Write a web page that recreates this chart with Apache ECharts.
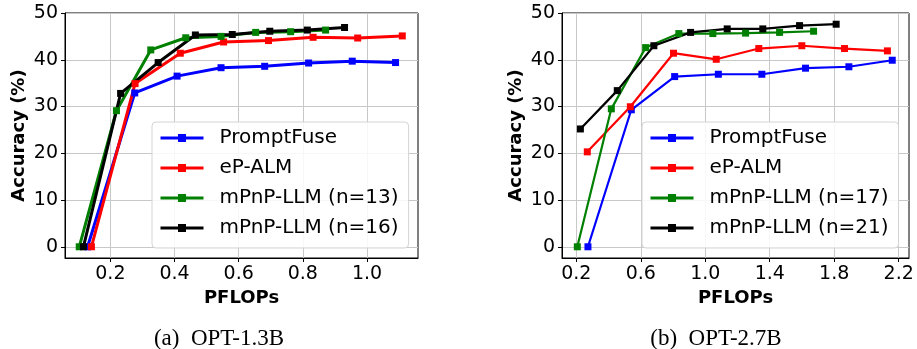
<!DOCTYPE html>
<html>
<head>
<meta charset="utf-8">
<script src="https://cdn.jsdelivr.net/npm/echarts@6/dist/echarts.min.js"></script>
<style>
  html, body { margin: 0; padding: 0; background: #fff; }
  #chart { width: 917px; height: 349px; }
</style>
</head>
<body>
<div id="chart"></div>
<script>
// ---- data (PFLOPs vs accuracy %) ----
// (a) OPT-1.3B
const leftPromptFuseX = [0.129, 0.276, 0.408, 0.545, 0.681, 0.818, 0.954, 1.089];
const leftPromptFuseY = [0, 32.9, 36.5, 38.3, 38.6, 39.3, 39.7, 39.4];
const leftEpAlmX = [0.141, 0.277, 0.418, 0.553, 0.693, 0.832, 0.971, 1.110];
const leftEpAlmY = [0, 34.9, 41.4, 43.8, 44.1, 44.8, 44.65, 45.1];
const leftN13X = [0.103, 0.219, 0.326, 0.435, 0.545, 0.653, 0.762, 0.871];
const leftN13Y = [0, 29.1, 42.1, 44.7, 45.0, 45.85, 46.0, 46.35];
const leftN16X = [0.116, 0.232, 0.349, 0.465, 0.580, 0.697, 0.814, 0.930];
const leftN16Y = [0, 32.8, 39.4, 45.3, 45.4, 46.1, 46.35, 46.9];

// (b) OPT-2.7B
const rightPromptFuseX = [0.272, 0.541, 0.810, 1.081, 1.351, 1.622, 1.891, 2.160];
const rightPromptFuseY = [0, 29.3, 36.4, 36.9, 36.9, 38.2, 38.5, 39.9];
const rightEpAlmX = [0.268, 0.535, 0.803, 1.068, 1.332, 1.599, 1.864, 2.130];
const rightEpAlmY = [20.3, 29.95, 41.4, 40.1, 42.4, 43.0, 42.4, 41.9];
const rightN17X = [0.206, 0.417, 0.630, 0.836, 1.047, 1.250, 1.461, 1.672];
const rightN17Y = [0, 29.5, 42.6, 45.6, 45.6, 45.7, 45.85, 46.1];
const rightN21X = [0.225, 0.454, 0.681, 0.909, 1.136, 1.357, 1.585, 1.812];
const rightN21Y = [25.2, 33.4, 43.0, 45.85, 46.6, 46.6, 47.3, 47.6];

const leftXTicks = [0.2, 0.4, 0.6, 0.8, 1.0];
const rightXTicks = [0.2, 0.6, 1.0, 1.4, 1.8, 2.2];
const yTicks = [0, 10, 20, 30, 40, 50];

const leftNames = ["PromptFuse", "eP-ALM", "mPnP-LLM (n=13)", "mPnP-LLM (n=16)"];
const rightNames = ["PromptFuse", "eP-ALM", "mPnP-LLM (n=17)", "mPnP-LLM (n=21)"];
const captions = ["(a)  OPT-1.3B", "(b)  OPT-2.7B"];

const colors = ["#0000ff", "#ff0000", "#008000", "#000000"];
const FONT = "DejaVu Sans";

const zip = (xs, ys) => xs.map((x, i) => [x, ys[i]]);

function makeSeries(name, xs, ys, color, idx, width) {
  return {
    name: name,
    type: "line",
    xAxisIndex: idx,
    yAxisIndex: idx,
    data: zip(xs, ys),
    symbol: "rect",
    symbolSize: 7,
    showAllSymbol: true,
    itemStyle: { color: color },
    lineStyle: { color: color, width: width },
    emphasis: { disabled: true },
    animation: false,
  };
}

function xAxisFor(idx, min, max, ticks) {
  return {
    type: "value",
    gridIndex: idx,
    min: min,
    max: max,
    name: "PFLOPs",
    nameLocation: "middle",
    nameGap: 31,
    nameTextStyle: { fontFamily: FONT, fontSize: 18, fontWeight: "bold", color: "#000" },
    axisLine: { show: true, onZero: false, lineStyle: { color: "#000", width: 1 } },
    axisTick: { show: true, length: 4, customValues: ticks, lineStyle: { color: "#000" } },
    axisLabel: {
      customValues: ticks,
      margin: 7,
      fontFamily: FONT,
      fontSize: 19,
      color: "#000",
      formatter: (v) => v.toFixed(1),
    },
    splitLine: { show: true, lineStyle: { color: "#c8c8c8", width: 1 } },
  };
}

function yAxisFor(idx) {
  return {
    type: "value",
    gridIndex: idx,
    min: -2.4,
    max: 50,
    name: "Accuracy (%)",
    nameLocation: "middle",
    nameGap: 37,
    nameTextStyle: { fontFamily: FONT, fontSize: 18, fontWeight: "bold", color: "#000" },
    axisLine: { show: true, onZero: false, lineStyle: { color: "#000", width: 1 } },
    axisTick: { show: true, length: 4, customValues: yTicks, lineStyle: { color: "#000" } },
    axisLabel: {
      customValues: yTicks,
      margin: 7,
      fontFamily: FONT,
      fontSize: 19,
      color: "#000",
    },
    splitLine: { show: true, lineStyle: { color: "#c8c8c8", width: 1 } },
  };
}

function legendFor(left, names) {
  return {
    orient: "vertical",
    left: left,
    top: 122,
    data: names,
    selectedMode: false,
    itemWidth: 43,
    itemHeight: 10,
    itemGap: 10,
    padding: [6, 10, 10, 7],
    backgroundColor: "rgba(255,255,255,0.85)",
    borderColor: "#d4d4d4",
    borderWidth: 1,
    borderRadius: 4,
    lineStyle: { width: 3 },
    textStyle: {
      fontFamily: FONT,
      fontSize: 20,
      lineHeight: 20,
      color: "#000",
      padding: [0, 0, 0, 11],
    },
  };
}

const chart = echarts.init(document.getElementById("chart"), null, { renderer: "canvas" });

chart.setOption({
  backgroundColor: "#fff",
  animation: false,
  title: [
    {
      text: captions[0],
      left: 214,
      top: 322,
      textAlign: "center",
      textStyle: { fontFamily: "Liberation Serif", fontSize: 23, fontWeight: "normal", color: "#000" },
    },
    {
      text: captions[1],
      left: 711,
      top: 322,
      textAlign: "center",
      textStyle: { fontFamily: "Liberation Serif", fontSize: 23, fontWeight: "normal", color: "#000" },
    },
  ],
  grid: [
    { left: 65, top: 13, width: 353, height: 245, show: true, borderColor: "#000", borderWidth: 1, backgroundColor: "transparent" },
    { left: 562, top: 13, width: 347, height: 245, show: true, borderColor: "#000", borderWidth: 1, backgroundColor: "transparent" },
  ],
  xAxis: [xAxisFor(0, 0.0586, 1.159, leftXTicks), xAxisFor(1, 0.111, 2.264, rightXTicks)],
  yAxis: [yAxisFor(0), yAxisFor(1)],
  legend: [legendFor(152, leftNames), legendFor(642, rightNames)],
  series: [
    makeSeries(leftNames[0], leftPromptFuseX, leftPromptFuseY, colors[0], 0, 3),
    makeSeries(leftNames[1], leftEpAlmX, leftEpAlmY, colors[1], 0, 3),
    makeSeries(leftNames[2], leftN13X, leftN13Y, colors[2], 0, 3),
    makeSeries(leftNames[3], leftN16X, leftN16Y, colors[3], 0, 3),
    makeSeries(rightNames[0], rightPromptFuseX, rightPromptFuseY, colors[0], 1, 2.2),
    makeSeries(rightNames[1], rightEpAlmX, rightEpAlmY, colors[1], 1, 2.2),
    makeSeries(rightNames[2], rightN17X, rightN17Y, colors[2], 1, 2.2),
    makeSeries(rightNames[3], rightN21X, rightN21Y, colors[3], 1, 2.2),
  ],
});
</script>
</body>
</html>
